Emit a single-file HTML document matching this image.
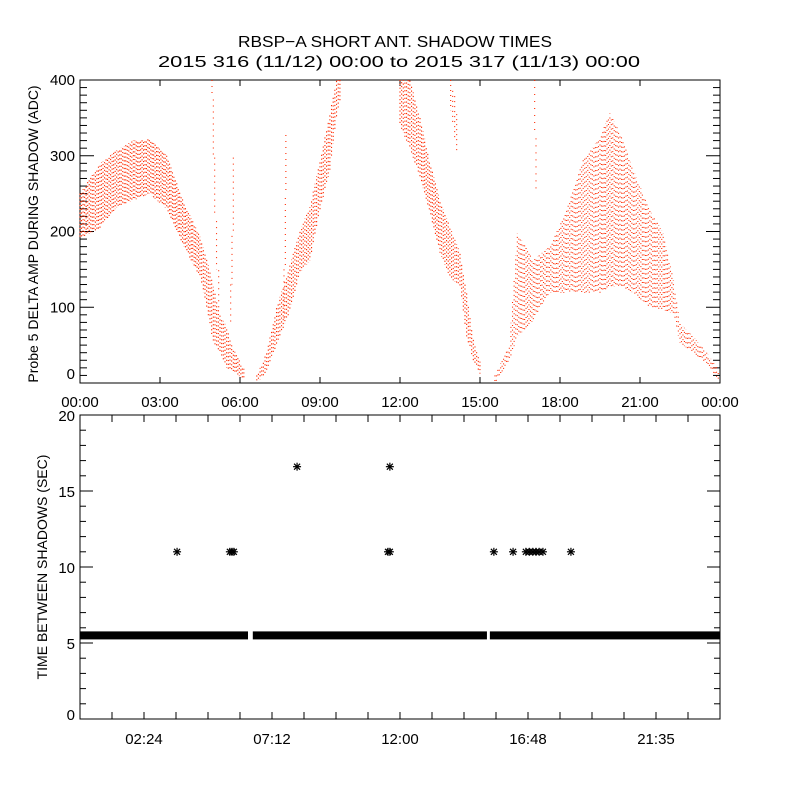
<!DOCTYPE html>
<html><head><meta charset="utf-8"><style>
html,body{margin:0;padding:0;background:#fff;}
svg{display:block;font-family:"Liberation Sans",sans-serif;}
</style></head><body>
<svg id="chart" width="800" height="800" viewBox="0 0 800 800" xmlns="http://www.w3.org/2000/svg">
<rect width="800" height="800" fill="#fff"/>
<text x="395" y="47" text-anchor="middle" font-size="16" textLength="314" lengthAdjust="spacingAndGlyphs">RBSP−A SHORT ANT. SHADOW TIMES</text>
<text x="399" y="67" text-anchor="middle" font-size="16" textLength="482" lengthAdjust="spacingAndGlyphs">2015 316 (11/12) 00:00 to 2015 317 (11/13) 00:00</text>
<g id="topPanel"></g>
<g id="botPanel"></g>
</svg>
<script>
// ---- top panel data: [hour, low, high] amplitude envelopes per branch ----
const mainBranch = [[0,190,250],[0.75,205,290],[1.375,232,307],[2,241,320],[2.6,250,322],[3.25,230,300],[3.9,180,238],[4.5,140,193],[4.75,100,165],[5,53,127],[5.25,40,90],[5.5,20,74],[5.75,15,45],[6.2,3,15]];
const spikeB = [[4.95,380,400],[5.0,300,380],[5.05,220,300],[5.12,150,220],[5.2,100,150],[5.3,60,100]];
const spikeC = [[5.65,80,130],[5.7,130,200],[5.75,200,300],[5.8,300,370]];
const spikeD = [[7.65,80,150],[7.7,150,250],[7.72,250,330],[7.75,330,400]];
const risingBranch = [[6.63,0,10],[7.0,15,40],[7.37,50,100],[7.87,95,155],[8.25,145,202],[8.62,162,232],[9.0,228,294],[9.37,281,356],[9.62,351,400],[9.81,380,400]];
const fallingBranch = [[12,340,400],[12.37,310,400],[12.75,272,351],[13.1,228,294],[13.5,172,241],[13.87,140,206],[14.25,127,172],[14.5,61,119],[14.75,30,57],[15.06,8,21]];
const spikeG = [[13.9,360,400],[14.05,320,380],[14.2,290,340]];
const spikeJ = [[17.05,330,400],[17.1,250,330],[17.15,180,250]];
const cloudBranch = [[15.56,0,10],[16.1,30,50],[16.4,61,198],[17,83,162],[17.6,119,180],[18.25,119,228],[18.87,119,294],[19.5,119,325],[19.87,127,356],[20.25,127,330],[20.75,119,281],[21.37,100,228],[21.87,96,198],[22.25,92,136],[22.5,53,79],[23.0,40,61],[23.5,26,40],[23.87,8,21],[24,0,5]];
const topXTicks = ["00:00","03:00","06:00","09:00","12:00","15:00","18:00","21:00","00:00"];
const topYTicks = [0,100,200,300,400];

// ---- bottom panel data ----
const bandValue = 5.5;
const bandSegments = [[0,6.3],[6.48,15.26],[15.37,24]];
const outlierHours = [3.64,5.62,5.7,5.77,11.55,11.62,15.52,16.24,16.72,16.85,16.98,17.1,17.22,17.36,18.41,8.14,11.62];
const outlierValues = [11,11,11,11,11,11,11,11,11,11,11,11,11,11,11,16.6,16.6];
const botXTicks = ["02:24","07:12","12:00","16:48","21:35"];
const botYTicks = [0,5,10,15,20];

const NS="http://www.w3.org/2000/svg";
function mk(tag,parent,attrs){const e=document.createElementNS(NS,tag);for(const k in attrs)e.setAttribute(k,attrs[k]);parent.appendChild(e);return e;}

const X0=80,X1=720;
const xs=h=>X0+(h/24)*(X1-X0);
const T0=80,T1=383; const ys=v=>T1-(v/400)*(T1-T0);
const B0=415,B1=719; const yb=v=>B1-(v/20)*(B1-B0);

const topG=document.getElementById('topPanel');
const botG=document.getElementById('botPanel');

const f1=mk('rect',topG,{x:X0,y:T0,width:X1-X0,height:T1-T0,fill:'none',stroke:'#000','stroke-width':1});


for(let v=0;v<=400;v+=10){
  const len=(v%100===0)?14:7;
  const l=mk('line',topG,{x1:X0,x2:X0+len,y1:ys(v),y2:ys(v),stroke:'#000'});
  
  
  const r=mk('line',topG,{x1:X1,x2:X1-len,y1:ys(v),y2:ys(v),stroke:'#000'});
  
  
}
topYTicks.forEach(v=>{
  const t=mk('text',topG,{x:75,y:Math.min(ys(v)+5,379),'text-anchor':'end','font-size':15});
  t.textContent=v;
  
  
});
topXTicks.forEach((s,i)=>{
  const h=i*3;
  const a=mk('line',topG,{x1:xs(h),x2:xs(h),y1:T0,y2:T0+6,stroke:'#000'});
  
  
  const b=mk('line',topG,{x1:xs(h),x2:xs(h),y1:T1,y2:T1-6,stroke:'#000'});
  
  
  const t=mk('text',topG,{x:xs(h),y:407,'text-anchor':'middle','font-size':15});
  t.textContent=s;
  
  
});
const yt=mk('text',topG,{x:0,y:0,'text-anchor':'middle','font-size':14,transform:'translate(38,234) rotate(-90)'});
yt.textContent='Probe 5 DELTA AMP DURING SHADOW (ADC)';



function drawBranch(arr,name,dash,step){
  const g=mk('g',topG,{});
  
  
  let k=0;
  for(let i=0;i<arr.length-1;i++){
    const a=arr[i],b=arr[i+1];
    const px0=xs(a[0]),px1=xs(b[0]);
    const n=Math.max(1,Math.round(Math.abs(px1-px0)/step));
    for(let j=0;j<n;j++){
      const f=j/n;
      const h=a[0]+(b[0]-a[0])*f;
      const lo=a[1]+(b[1]-a[1])*f, hi=a[2]+(b[2]-a[2])*f;
      const x=xs(h);
      const ln=mk('line',g,{x1:x,x2:x,y1:ys(Math.min(hi,400)),y2:ys(Math.max(lo,0)),stroke:'#ff2a00','stroke-width':1.1,'stroke-dasharray':dash,'stroke-dashoffset':((k*k*0.37+k*1.3)%6).toFixed(2)});
      
      
      k++;
    }
  }
}
drawBranch(mainBranch,'main-branch','1.2 2.6',1.5);
drawBranch(spikeB,'spike-b','1 5',2);
drawBranch(spikeC,'spike-c','1 5',2);
drawBranch(spikeD,'spike-d','1 5',2);
drawBranch(risingBranch,'rising-branch','1.2 2.6',1.6);
drawBranch(fallingBranch,'falling-branch','1.2 2.6',1.6);
drawBranch(spikeG,'spike-g','1 4',2);
drawBranch(spikeJ,'spike-j','1 6',2);
drawBranch(cloudBranch,'cloud-branch','1 3.6',1.5);

const f2=mk('rect',botG,{x:X0,y:B0,width:X1-X0,height:B1-B0,fill:'none',stroke:'#000','stroke-width':1});


for(let v=0;v<=20;v++){
  const len=(v%5===0)?13:6;
  const l=mk('line',botG,{x1:X0,x2:X0+len,y1:yb(v),y2:yb(v),stroke:'#000'});
  
  
  const r=mk('line',botG,{x1:X1,x2:X1-len,y1:yb(v),y2:yb(v),stroke:'#000'});
  
  
}
botYTicks.forEach(v=>{
  const t=mk('text',botG,{x:75,y:Math.min(yb(v)+6,720),'text-anchor':'end','font-size':15});
  t.textContent=v;
  
  
});
for(let i=1;i<20;i++){
  const h=i*1.2;
  const a=mk('line',botG,{x1:xs(h),x2:xs(h),y1:B0,y2:B0+7,stroke:'#000'});
  
  
  const b=mk('line',botG,{x1:xs(h),x2:xs(h),y1:B1,y2:B1-7,stroke:'#000'});
  
  
}
botXTicks.forEach((s,i)=>{
  const t=mk('text',botG,{x:xs(2.4+i*4.8),y:744,'text-anchor':'middle','font-size':15});
  t.textContent=s;
  
  
});
const yt2=mk('text',botG,{x:0,y:0,'text-anchor':'middle','font-size':14,transform:'translate(47,567) rotate(-90)'});
yt2.textContent='TIME BETWEEN SHADOWS (SEC)';



bandSegments.forEach(s=>{
  const r=mk('rect',botG,{x:xs(s[0]),y:yb(bandValue)-4,width:xs(s[1])-xs(s[0]),height:8,fill:'#000'});
  
  
});
outlierHours.forEach((h,i)=>{
  const cx=xs(h),cy=yb(outlierValues[i]);
  const g=mk('g',botG,{stroke:'#000','stroke-width':1.2});
  
  
  mk('line',g,{x1:cx-4,x2:cx+4,y1:cy,y2:cy});
  mk('line',g,{x1:cx,x2:cx,y1:cy-4,y2:cy+4});
  mk('line',g,{x1:cx-3,x2:cx+3,y1:cy-3,y2:cy+3});
  mk('line',g,{x1:cx-3,x2:cx+3,y1:cy+3,y2:cy-3});
});
</script>
</body></html>
